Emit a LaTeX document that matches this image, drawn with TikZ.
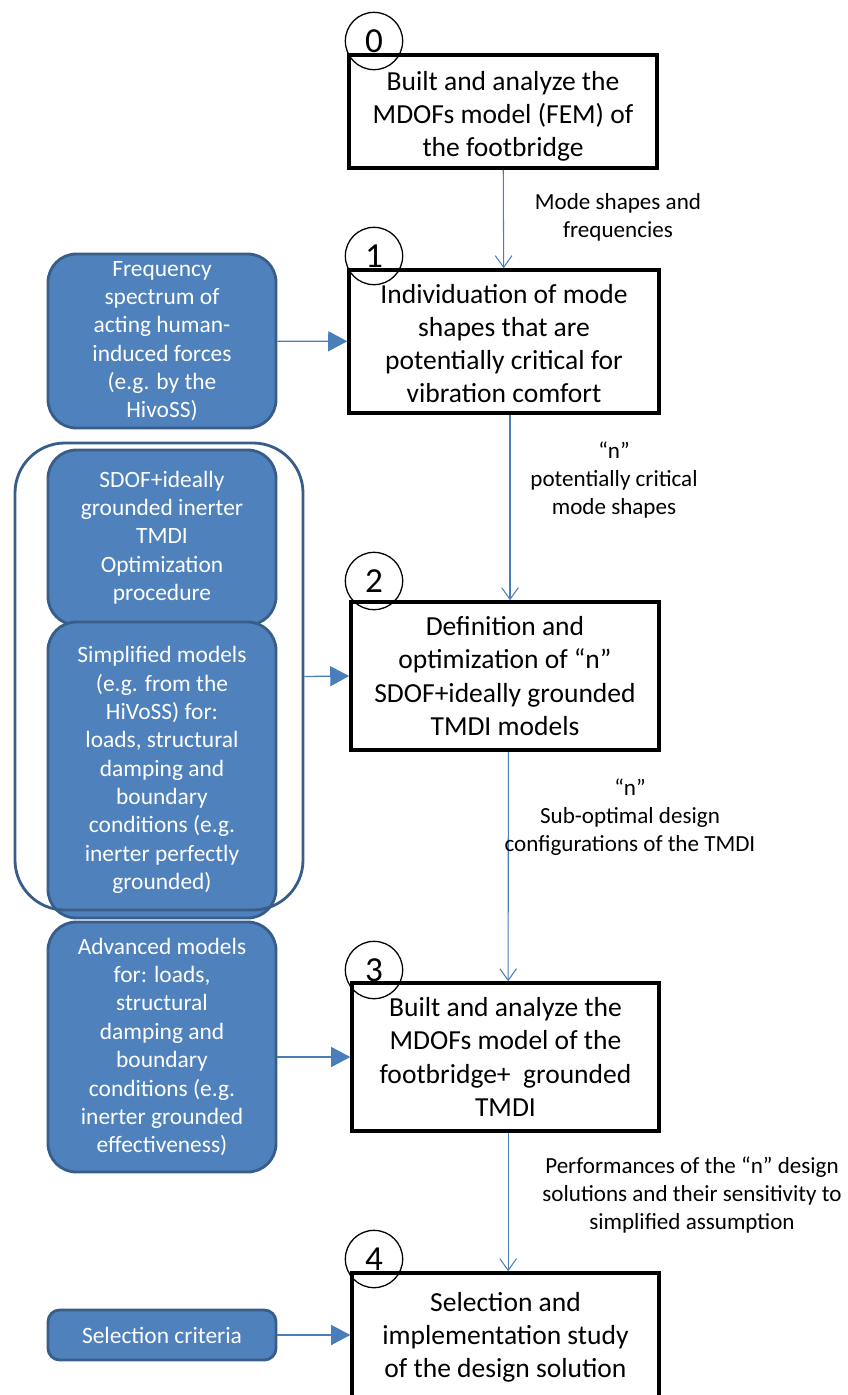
\documentclass[tikz,border=0pt]{standalone}
\usepackage{fontspec}
\setmainfont{Carlito}
\usetikzlibrary{arrows.meta}

\definecolor{boxblue}{HTML}{4F81BD}
\definecolor{boxedge}{HTML}{385D8A}
\definecolor{linkblue}{HTML}{4A7EBB}

\tikzset{
    stepbox/.style={draw, line width=3pt, align=center, inner sep=0pt,
        font=\fontsize{23.5}{28.3}\selectfont},
    stepnum/.style={circle, draw, line width=1.1pt, minimum size=1.72cm, inner sep=0pt,
        font=\fontsize{30}{32}\selectfont},
    inbox/.style={draw=boxedge, fill=boxblue, line width=2.4pt, rounded corners=0.85cm,
        text=white, align=center, inner sep=0pt, minimum width=6.84cm,
        font=\fontsize{20}{24.2}\selectfont},
    note/.style={align=center, font=\fontsize{19.7}{24}\selectfont},
    flow/.style={linkblue, line width=0.9pt, -{Straight Barb[length=3.5mm,width=5mm]}},
    feed/.style={linkblue, line width=1.1pt, -{Triangle[length=5.7mm,width=6mm]}}
}

\begin{document}
\begin{tikzpicture}[x=0.03cm, y=-0.03cm]
    \useasboundingbox (0,0) rectangle (848,1395);

    % Main steps
    \node[stepbox, minimum width=9.24cm, minimum height=3.39cm] (step0) at (503,111.5)
        {\rule{0pt}{24pt}Built and analyze the\\MDOFs model (FEM) of\\the footbridge};
    \node[stepbox, minimum width=9.3cm, minimum height=4.29cm] (step1) at (504,341.5)
        {\rule{0pt}{20pt}Individuation of mode\\shapes that are\\potentially critical for\\vibration comfort};
    \node[stepbox, minimum width=9.24cm, minimum height=4.44cm] (step2) at (505,676)
        {Definition and\\optimization of “n”\\SDOF+ideally grounded\\TMDI models};
    \node[stepbox, minimum width=9.21cm, minimum height=4.44cm] (step3) at (505.5,1057)
        {Built and analyze the\\MDOFs model of the\\footbridge+~~grounded\\TMDI};
    \node[stepbox, minimum width=9.21cm, minimum height=3.84cm] (step4) at (505.5,1337)
        {Selection and\\implementation study\\of the design solution};

    % Step numbers
    \node[stepnum] (num0) at (374,41) {0};
    \node[stepnum] (num1) at (374,256) {1};
    \node[stepnum] (num2) at (374,581) {2};
    \node[stepnum] (num3) at (374,970) {3};
    \node[stepnum] (num4) at (374,1259) {4};

    % Inputs
    \node[inbox, minimum height=5.22cm] (freq) at (162,341)
        {Frequency\\spectrum of\\acting human-\\induced forces\\(e.g. by the\\HivoSS)};
    \node[inbox, minimum height=5.25cm] (sdof) at (162,537.5)
        {SDOF+ideally\\grounded inerter\\TMDI\\Optimization\\procedure};
    \node[inbox, minimum height=8.88cm] (simple) at (162,770)
        {Simplified models\\(e.g. from the\\HiVoSS) for:\\loads, structural\\damping and\\boundary\\conditions (e.g.\\inerter perfectly\\grounded)};
    \node[inbox, minimum height=7.5cm] (adv) at (162,1047)
        {Advanced models\\for: loads,\\structural\\damping and\\boundary\\conditions (e.g.\\inerter grounded\\effectiveness)};
    \node[inbox, minimum height=1.5cm, rounded corners=0.35cm] (select) at (162,1335)
        {Selection criteria};
    \node[draw=boxedge, line width=2.4pt, rounded corners=1.5cm,
        minimum width=8.64cm, minimum height=14.01cm] (group) at (159,676.5) {};

    % Flow between steps
    \draw[flow] (step0) -- (step1);
    \draw[flow] ([xshift=0.18cm]step1.south) -- ([xshift=0.15cm]step2.north);
    \draw[flow] ([xshift=0.1cm]step2.south) -- ([xshift=0.08cm]step3.north);
    \draw[flow] ([xshift=0.08cm]step3.south) -- ([xshift=0.08cm]step4.north);

    \node[note] (out0) at (618,217) {Mode shapes and\\frequencies};
    \node[note] (out1) at (614,480) {“n”\\potentially critical\\mode shapes};
    \node[note] (out2) at (630,817) {“n”\\Sub-optimal design\\configurations of the TMDI};
    \node[note] (out3) at (692,1195) {Performances of the “n” design\\solutions and their sensitivity to\\simplified assumption};

    % Inputs to steps
    \draw[feed] (freq) -- (step1);
    \draw[feed] (group.east) -- (step2.west);
    \draw[feed] (adv.east |- step3.west) -- (step3.west);
    \draw[feed] (select) -- (step4.west |- select);
\end{tikzpicture}
\end{document}
